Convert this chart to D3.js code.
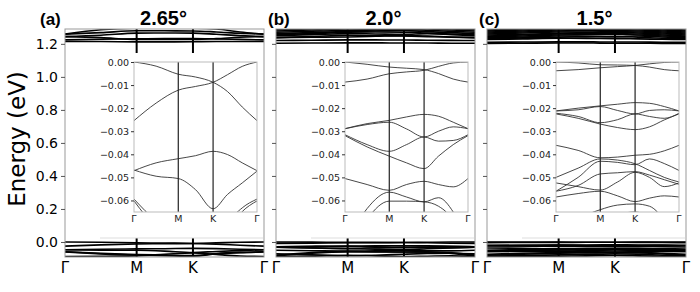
<!DOCTYPE html>
<html>
<head>
<meta charset="utf-8">
<script src="https://cdn.jsdelivr.net/npm/d3@7"></script>
<style>
  body { margin: 0; background: #fff; }
  svg { display: block; font-family: "DejaVu Sans", sans-serif; }
</style>
</head>
<body>
<svg id="chart" width="700" height="292"></svg>
<script>
// k-path Γ-M-K-Γ, positions as fraction of the path
var kNodes = [0, 0.18, 0.36, 0.50, 0.643, 0.76, 0.88, 1];
var kTicks = [0, 0.36, 0.643, 1];
var kLabels = ["Γ", "M", "K", "Γ"];
var panelTags = ["(a)", "(b)", "(c)"];
var twistAngles = ["2.65°", "2.0°", "1.5°"];
var energyTicks = [0.0, 0.2, 0.4, 0.6, 0.8, 1.0, 1.2];
var insetTicks = [0, -0.01, -0.02, -0.03, -0.04, -0.05, -0.06];

// band energies (eV) at kNodes
var valenceA = [
  [0, -0.0018, -0.0053, -0.0065, -0.0088, -0.0128, -0.0195, -0.0254],
  [-0.0254, -0.0178, -0.0122, -0.0106, -0.0088, -0.0055, -0.0019, 0],
  [-0.0471, -0.0437, -0.0419, -0.0406, -0.0387, -0.0401, -0.0437, -0.0471],
  [-0.0468, -0.0495, -0.0505, -0.0553, -0.0636, -0.0574, -0.0524, -0.0473],
  [-0.0594, -0.0690, -0.0760, -0.0790, -0.0820, -0.0700, -0.0632, -0.0594],
  [-0.0602, -0.0720, -0.0800, -0.0830, -0.0860, -0.0730, -0.0648, -0.0602],
  [-0.0880, -0.0870, -0.0840, -0.0750, -0.0660, -0.0760, -0.0850, -0.0880]
];
var conductionA = [
  [1.259, 1.285, 1.295, 1.295, 1.295, 1.290, 1.272, 1.259],
  [1.259, 1.268, 1.279, 1.279, 1.278, 1.272, 1.264, 1.259],
  [1.244, 1.252, 1.265, 1.266, 1.265, 1.258, 1.250, 1.244],
  [1.244, 1.238, 1.226, 1.226, 1.227, 1.232, 1.240, 1.244],
  [1.224, 1.228, 1.230, 1.232, 1.232, 1.230, 1.227, 1.224],
  [1.214, 1.214, 1.212, 1.212, 1.213, 1.214, 1.214, 1.214]
];
var valenceB = [
  [0, -0.0010, -0.0022, -0.0027, -0.0033, -0.0050, -0.0074, -0.0087],
  [-0.0087, -0.0074, -0.0051, -0.0043, -0.0036, -0.0019, -0.0004, 0],
  [-0.0289, -0.0267, -0.0253, -0.0238, -0.0227, -0.0235, -0.0261, -0.0289],
  [-0.0289, -0.0271, -0.0261, -0.0290, -0.0325, -0.0300, -0.0281, -0.0289],
  [-0.0315, -0.0358, -0.0387, -0.0358, -0.0325, -0.0343, -0.0340, -0.0315],
  [-0.0319, -0.0368, -0.0408, -0.0437, -0.0462, -0.0408, -0.0358, -0.0319],
  [-0.0505, -0.0531, -0.0556, -0.0531, -0.0517, -0.0531, -0.0541, -0.0505],
  [-0.0800, -0.0635, -0.0564, -0.0585, -0.0606, -0.0588, -0.0650, -0.0780],
  [-0.0850, -0.0680, -0.0603, -0.0603, -0.0606, -0.0625, -0.0690, -0.0850],
  [-0.0720, -0.0780, -0.0830, -0.0800, -0.0740, -0.0700, -0.0680, -0.0720],
  [-0.0880, -0.0860, -0.0800, -0.0840, -0.0880, -0.0860, -0.0840, -0.0880]
];
var conductionB = [
  [1.204, 1.205, 1.206, 1.206, 1.205, 1.205, 1.204, 1.204],
  [1.220, 1.222, 1.224, 1.224, 1.223, 1.222, 1.221, 1.220],
  [1.238, 1.245, 1.252, 1.250, 1.248, 1.244, 1.240, 1.238],
  [1.238, 1.240, 1.242, 1.246, 1.250, 1.247, 1.242, 1.238],
  [1.250, 1.256, 1.262, 1.260, 1.258, 1.262, 1.256, 1.250],
  [1.255, 1.262, 1.270, 1.272, 1.270, 1.266, 1.260, 1.255],
  [1.262, 1.268, 1.275, 1.278, 1.280, 1.274, 1.268, 1.262],
  [1.270, 1.276, 1.282, 1.284, 1.285, 1.282, 1.276, 1.270],
  [1.278, 1.284, 1.290, 1.288, 1.286, 1.290, 1.284, 1.278],
  [1.285, 1.290, 1.296, 1.298, 1.298, 1.295, 1.290, 1.285]
];
var valenceC = [
  [0, -0.0004, -0.0012, -0.0013, -0.0015, -0.0022, -0.0033, -0.0038],
  [-0.0038, -0.0033, -0.0025, -0.0020, -0.0015, -0.0008, -0.0002, 0],
  [-0.0212, -0.0200, -0.0190, -0.0183, -0.0176, -0.0179, -0.0193, -0.0212],
  [-0.0212, -0.0207, -0.0193, -0.0210, -0.0225, -0.0210, -0.0207, -0.0212],
  [-0.0222, -0.0236, -0.0263, -0.0250, -0.0225, -0.0236, -0.0244, -0.0222],
  [-0.0225, -0.0244, -0.0269, -0.0284, -0.0293, -0.0281, -0.0251, -0.0225],
  [-0.0361, -0.0383, -0.0415, -0.0412, -0.0404, -0.0400, -0.0385, -0.0361],
  [-0.0500, -0.0460, -0.0420, -0.0425, -0.0441, -0.0470, -0.0500, -0.0520],
  [-0.0560, -0.0500, -0.0430, -0.0435, -0.0445, -0.0420, -0.0440, -0.0470],
  [-0.0524, -0.0540, -0.0555, -0.0520, -0.0478, -0.0500, -0.0540, -0.0524],
  [-0.0560, -0.0535, -0.0485, -0.0480, -0.0475, -0.0490, -0.0510, -0.0530],
  [-0.0585, -0.0570, -0.0560, -0.0580, -0.0605, -0.0590, -0.0580, -0.0585],
  [-0.0750, -0.0680, -0.0640, -0.0620, -0.0615, -0.0625, -0.0680, -0.0750],
  [-0.0800, -0.0740, -0.0680, -0.0660, -0.0650, -0.0670, -0.0720, -0.0800],
  [-0.0850, -0.0820, -0.0780, -0.0750, -0.0720, -0.0740, -0.0800, -0.0850],
  [-0.0900, -0.0880, -0.0860, -0.0840, -0.0820, -0.0840, -0.0870, -0.0900]
];
var conductionC = [
  [1.203, 1.204, 1.205, 1.205, 1.204, 1.204, 1.203, 1.203],
  [1.210, 1.211, 1.212, 1.212, 1.211, 1.211, 1.210, 1.210],
  [1.226, 1.230, 1.234, 1.233, 1.232, 1.230, 1.228, 1.226],
  [1.230, 1.236, 1.240, 1.242, 1.244, 1.240, 1.234, 1.230],
  [1.236, 1.242, 1.248, 1.246, 1.244, 1.248, 1.242, 1.236],
  [1.242, 1.248, 1.254, 1.256, 1.258, 1.254, 1.248, 1.242],
  [1.248, 1.254, 1.260, 1.262, 1.262, 1.260, 1.254, 1.248],
  [1.254, 1.258, 1.264, 1.268, 1.270, 1.266, 1.260, 1.254],
  [1.260, 1.266, 1.272, 1.272, 1.274, 1.272, 1.266, 1.260],
  [1.266, 1.272, 1.278, 1.280, 1.280, 1.278, 1.272, 1.266],
  [1.272, 1.278, 1.284, 1.286, 1.286, 1.284, 1.278, 1.272],
  [1.278, 1.284, 1.290, 1.292, 1.294, 1.290, 1.284, 1.278],
  [1.284, 1.290, 1.296, 1.298, 1.298, 1.296, 1.290, 1.284]
];

var valence = [valenceA, valenceB, valenceC];
var conduction = [conductionA, conductionB, conductionC];

// layout
var panelW = 199, step = 211, left0 = 65;
var plotTop = 29, plotBottom = 257;
var insetTop = 62, insetBottom = 212, insetOffset = 69, insetW = 123;
var letterX = [40, 268, 479];
var titleX = [163.5, 383.5, 594.5];
var titleFont = "'Liberation Sans', Arial, sans-serif";

var svg = d3.select("#chart");

var yMain = d3.scaleLinear().domain([-0.091, 1.29]).range([plotBottom, plotTop]);
var yInset = d3.scaleLinear().domain([-0.065, 0]).range([insetBottom, insetTop]);

svg.append("text")
  .attr("transform", "translate(25,139) rotate(-90)")
  .attr("text-anchor", "middle")
  .attr("font-size", 23)
  .text("Energy (eV)");

panelTags.forEach(function(tag, i) {
  var x0 = left0 + i * step;
  var g = svg.append("g");

  var xMain = d3.scaleLinear().domain([0, 1]).range([x0, x0 + panelW]);
  var ix0 = x0 + insetOffset;
  var xInset = d3.scaleLinear().domain([0, 1]).range([ix0, ix0 + insetW]);

  var bands = valence[i].concat(conduction[i]);

  // main plot
  g.append("clipPath").attr("id", "clipMain" + i)
    .append("rect")
      .attr("x", x0).attr("y", plotTop)
      .attr("width", panelW).attr("height", plotBottom - plotTop);

  var mainLine = d3.line()
    .x(function(d, j) { return xMain(kNodes[j]); })
    .y(function(d) { return yMain(d); })
    .curve(d3.curveMonotoneX);

  g.append("g").attr("clip-path", "url(#clipMain" + i + ")")
    .selectAll("path").data(bands).enter()
    .append("path")
      .attr("d", mainLine)
      .attr("fill", "none")
      .attr("stroke", "#000")
      .attr("stroke-width", 1.6);

  g.selectAll(".kline").data(kTicks.slice(1, 3)).enter()
    .append("line")
      .attr("x1", function(d) { return xMain(d); })
      .attr("x2", function(d) { return xMain(d); })
      .attr("y1", plotTop).attr("y2", plotBottom)
      .attr("stroke", "#000")
      .attr("stroke-width", 2);

  g.append("rect")
    .attr("x", x0).attr("y", plotTop)
    .attr("width", panelW).attr("height", plotBottom - plotTop)
    .attr("fill", "none")
    .attr("stroke", "#999")
    .attr("stroke-width", 1);

  var yAxis = d3.axisLeft(yMain)
    .tickValues(energyTicks)
    .tickSize(4)
    .tickSizeOuter(0)
    .tickFormat(i === 0 ? d3.format(".1f") : function() { return ""; });

  g.append("g")
    .attr("transform", "translate(" + x0 + ",0)")
    .call(yAxis)
    .call(function(s) {
      s.select(".domain").remove();
      s.attr("font-family", "DejaVu Sans, sans-serif").attr("font-size", 14);
      s.selectAll("line").attr("stroke", "#555");
      s.selectAll("text").attr("fill", "#000");
    });

  g.selectAll(".klabel").data(kTicks).enter()
    .append("text")
      .attr("x", function(d) { return xMain(d); })
      .attr("y", 273)
      .attr("text-anchor", "middle")
      .attr("font-size", 15)
      .text(function(d, j) { return kLabels[j]; });

  // white box behind the inset
  g.append("rect")
    .attr("x", ix0 - 34).attr("y", 53)
    .attr("width", x0 + panelW - 1 - (ix0 - 34)).attr("height", 238 - 53)
    .attr("fill", "#fff");
  g.append("line")
    .attr("x1", ix0 - 34).attr("x2", x0 + panelW - 1)
    .attr("y1", 238).attr("y2", 238)
    .attr("stroke", "#ddd")
    .attr("stroke-width", 1);

  // inset
  g.append("clipPath").attr("id", "clipInset" + i)
    .append("rect")
      .attr("x", ix0).attr("y", insetTop)
      .attr("width", insetW).attr("height", insetBottom - insetTop);

  var insetLine = d3.line()
    .x(function(d, j) { return xInset(kNodes[j]); })
    .y(function(d) { return yInset(d); })
    .curve(d3.curveMonotoneX);

  g.append("g").attr("clip-path", "url(#clipInset" + i + ")")
    .selectAll("path").data(valence[i]).enter()
    .append("path")
      .attr("d", insetLine)
      .attr("fill", "none")
      .attr("stroke", "#333")
      .attr("stroke-width", 0.9);

  g.selectAll(".ikline").data(kTicks.slice(1, 3)).enter()
    .append("line")
      .attr("x1", function(d) { return xInset(d); })
      .attr("x2", function(d) { return xInset(d); })
      .attr("y1", insetTop).attr("y2", insetBottom)
      .attr("stroke", "#222")
      .attr("stroke-width", 1.2);

  g.append("rect")
    .attr("x", ix0).attr("y", insetTop)
    .attr("width", insetW).attr("height", insetBottom - insetTop)
    .attr("fill", "none")
    .attr("stroke", "#bbb")
    .attr("stroke-width", 1);

  var yAxisInset = d3.axisLeft(yInset)
    .tickValues(insetTicks)
    .tickSize(3)
    .tickPadding(2)
    .tickSizeOuter(0)
    .tickFormat(d3.format(".2f"));

  g.append("g")
    .attr("transform", "translate(" + ix0 + ",0)")
    .call(yAxisInset)
    .call(function(s) {
      s.select(".domain").remove();
      s.attr("font-family", "DejaVu Sans, sans-serif").attr("font-size", 9.5);
      s.selectAll("line").attr("stroke", "#333");
      s.selectAll("text").attr("fill", "#222");
    });

  g.selectAll(".iklabel").data(kTicks).enter()
    .append("text")
      .attr("x", function(d) { return xInset(d); })
      .attr("y", 222)
      .attr("text-anchor", "middle")
      .attr("font-size", 9.5)
      .attr("fill", "#222")
      .text(function(d, j) { return kLabels[j]; });

  // titles
  g.append("text")
    .attr("x", letterX[i]).attr("y", 25)
    .attr("font-family", titleFont)
    .attr("font-weight", "bold")
    .attr("font-size", 17)
    .text(tag);

  g.append("text")
    .attr("x", titleX[i]).attr("y", 25)
    .attr("text-anchor", "middle")
    .attr("font-family", titleFont)
    .attr("font-weight", "bold")
    .attr("font-size", 20)
    .text(twistAngles[i]);
});
</script>
</body>
</html>
